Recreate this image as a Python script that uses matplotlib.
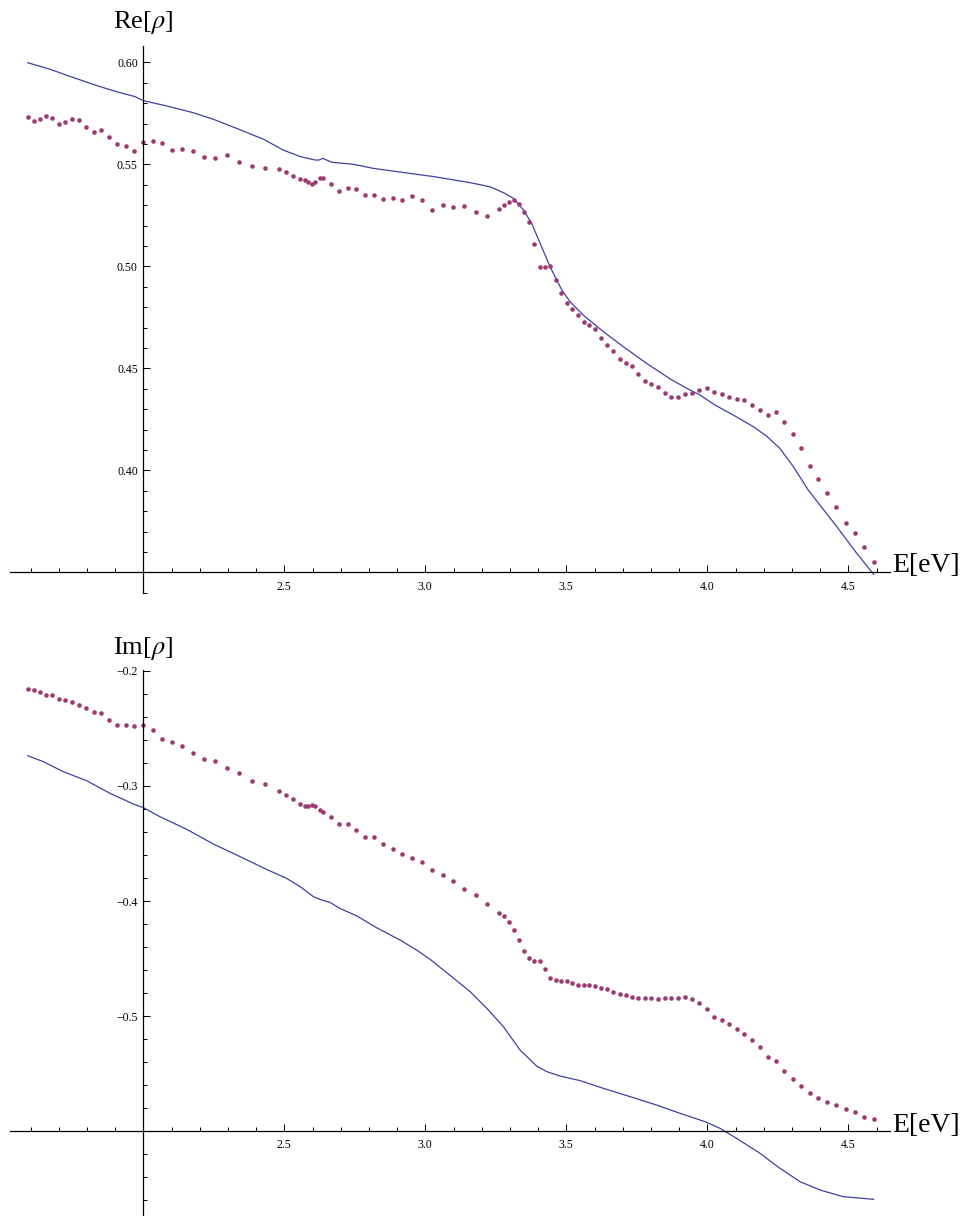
import matplotlib
matplotlib.use("Agg")
import matplotlib.pyplot as plt
import numpy as np

plt.rcParams['font.family'] = ['Liberation Serif', 'DejaVu Serif']
plt.rcParams['mathtext.fontset'] = 'stix'

# measured points (photon energy, eV)
energy = [
    1.590, 1.611, 1.632, 1.655, 1.676, 1.700, 1.723, 1.747, 1.772, 1.798,
    1.824, 1.851, 1.879, 1.908, 1.937, 1.968, 2.000, 2.033, 2.066, 2.102,
    2.137, 2.175, 2.214, 2.254, 2.296, 2.339, 2.384, 2.431, 2.480, 2.505,
    2.530, 2.556, 2.572, 2.585, 2.598, 2.610, 2.625, 2.638, 2.665, 2.695,
    2.725, 2.755, 2.786, 2.818, 2.850, 2.884, 2.917, 2.952, 2.987, 3.024,
    3.061, 3.099, 3.138, 3.178, 3.220, 3.261, 3.279, 3.297, 3.314, 3.332,
    3.350, 3.368, 3.387, 3.406, 3.425, 3.443, 3.462, 3.481, 3.501, 3.521,
    3.541, 3.562, 3.582, 3.603, 3.624, 3.645, 3.667, 3.689, 3.710, 3.733,
    3.755, 3.779, 3.802, 3.826, 3.849, 3.872, 3.897, 3.922, 3.947, 3.972,
    3.998, 4.024, 4.051, 4.077, 4.104, 4.131, 4.159, 4.187, 4.215, 4.244,
    4.273, 4.303, 4.332, 4.363, 4.394, 4.426, 4.458, 4.491, 4.524, 4.557,
    4.590,
]

re_meas = [
    0.5734, 0.5711, 0.5722, 0.5739, 0.5727, 0.5696, 0.5706, 0.5724, 0.5716, 0.5685,
    0.5660, 0.5667, 0.5636, 0.5600, 0.5588, 0.5567, 0.5609, 0.5616, 0.5603, 0.5570,
    0.5577, 0.5564, 0.5536, 0.5529, 0.5544, 0.5510, 0.5492, 0.5484, 0.5477, 0.5464,
    0.5443, 0.5430, 0.5423, 0.5415, 0.5404, 0.5415, 0.5435, 0.5435, 0.5402, 0.5369,
    0.5386, 0.5377, 0.5348, 0.5348, 0.5332, 0.5337, 0.5325, 0.5346, 0.5327, 0.5278,
    0.5302, 0.5292, 0.5296, 0.5268, 0.5248, 0.5283, 0.5299, 0.5317, 0.5324, 0.5304,
    0.5266, 0.5216, 0.5111, 0.4995, 0.4995, 0.5003, 0.4935, 0.4868, 0.4822, 0.4791,
    0.4761, 0.4729, 0.4711, 0.4694, 0.4650, 0.4614, 0.4585, 0.4544, 0.4524, 0.4510,
    0.4472, 0.4439, 0.4421, 0.4408, 0.4380, 0.4361, 0.4361, 0.4375, 0.4377, 0.4393,
    0.4403, 0.4382, 0.4375, 0.4357, 0.4351, 0.4344, 0.4321, 0.4298, 0.4271, 0.4284,
    0.4236, 0.4179, 0.4110, 0.4021, 0.3957, 0.3891, 0.3819, 0.3744, 0.3694, 0.3625,
    0.3551,
]

im_meas = [
    -0.2154, -0.2165, -0.2183, -0.2206, -0.2212, -0.2243, -0.2252, -0.2270, -0.2299, -0.2325,
    -0.2354, -0.2365, -0.2426, -0.2467, -0.2467, -0.2478, -0.2470, -0.2513, -0.2588, -0.2614,
    -0.2652, -0.2710, -0.2762, -0.2786, -0.2841, -0.2887, -0.2954, -0.2986, -0.3046, -0.3081,
    -0.3110, -0.3154, -0.3174, -0.3171, -0.3162, -0.3177, -0.3209, -0.3226, -0.3272, -0.3333,
    -0.3333, -0.3386, -0.3446, -0.3446, -0.3504, -0.3551, -0.3588, -0.3623, -0.3664, -0.3728,
    -0.3771, -0.3826, -0.3899, -0.3948, -0.4026, -0.4104, -0.4130, -0.4183, -0.4255, -0.4342,
    -0.4432, -0.4499, -0.4522, -0.4522, -0.4591, -0.4667, -0.4687, -0.4693, -0.4699, -0.4716,
    -0.4733, -0.4733, -0.4733, -0.4739, -0.4754, -0.4768, -0.4788, -0.4806, -0.4817, -0.4832,
    -0.4843, -0.4846, -0.4846, -0.4855, -0.4846, -0.4843, -0.4841, -0.4835, -0.4855, -0.4890,
    -0.4942, -0.5009, -0.5035, -0.5072, -0.5113, -0.5157, -0.5209, -0.5270, -0.5359, -0.5394,
    -0.5475, -0.5548, -0.5609, -0.5670, -0.5716, -0.5748, -0.5777, -0.5806, -0.5838, -0.5875,
    -0.5899,
]

# calculated curves
e_re_calc = [1.590, 1.669, 1.752, 1.846, 1.905, 1.970, 2.000, 2.083, 2.177, 2.248,
             2.331, 2.426, 2.496, 2.556, 2.609, 2.624, 2.636, 2.650, 2.668, 2.745,
             2.816, 2.910, 3.028, 3.159, 3.229, 3.277, 3.313, 3.348, 3.377, 3.407,
             3.442, 3.484, 3.513, 3.560, 3.631, 3.702, 3.785, 3.868, 3.927, 3.974,
             4.027, 4.092, 4.163, 4.210, 4.257, 4.305, 4.358, 4.459, 4.530, 4.590]
re_calc = [0.5998, 0.5966, 0.5925, 0.5881, 0.5856, 0.5832, 0.5812, 0.5786, 0.5753, 0.5721,
           0.5676, 0.5623, 0.5570, 0.5538, 0.5521, 0.5521, 0.5529, 0.5521, 0.5510, 0.5500,
           0.5480, 0.5462, 0.5440, 0.5410, 0.5390, 0.5361, 0.5333, 0.5276, 0.5211, 0.5113,
           0.4999, 0.4884, 0.4827, 0.4761, 0.4680, 0.4606, 0.4524, 0.4448, 0.4402, 0.4369,
           0.4320, 0.4271, 0.4214, 0.4168, 0.4108, 0.4018, 0.3903, 0.3724, 0.3593, 0.3490]

e_im_calc = [1.590, 1.645, 1.716, 1.799, 1.882, 1.965, 2.000, 2.059, 2.154, 2.248,
             2.343, 2.437, 2.508, 2.556, 2.603, 2.632, 2.662, 2.697, 2.757, 2.827,
             2.910, 2.969, 3.017, 3.159, 3.218, 3.277, 3.336, 3.395, 3.431, 3.478,
             3.549, 3.631, 3.726, 3.820, 3.903, 3.992, 4.045, 4.104, 4.187, 4.258,
             4.329, 4.400, 4.482, 4.590]
im_calc = [-0.2736, -0.2788, -0.2875, -0.2954, -0.3064, -0.3157, -0.3188, -0.3267, -0.3377, -0.3504,
           -0.3614, -0.3725, -0.3803, -0.3875, -0.3962, -0.3991, -0.4012, -0.4064, -0.4130, -0.4232,
           -0.4339, -0.4426, -0.4507, -0.4788, -0.4933, -0.5093, -0.5296, -0.5435, -0.5484, -0.5522,
           -0.5562, -0.5629, -0.5701, -0.5774, -0.5846, -0.5919, -0.5977, -0.6064, -0.6194, -0.6325,
           -0.6441, -0.6513, -0.6571, -0.6594]

line_color = '#4040a4'
dot_color = '#9b3b72'

fig = plt.figure(figsize=(9.69, 12.16), dpi=100)
ax1 = fig.add_axes([0, 0.5, 1, 0.5])
ax2 = fig.add_axes([0, 0.0, 1, 0.5])


def style_axes(ax, x0, y0, ylo, yhi, major_y, labels_y, minor_y):
    for s in ['top', 'right']:
        ax.spines[s].set_visible(False)
    ax.spines['left'].set_position(('data', x0))
    ax.spines['bottom'].set_position(('data', y0))
    ax.spines['left'].set_bounds(ylo, yhi)
    ax.spines['bottom'].set_bounds(1.527, 4.648)
    for s in ['left', 'bottom']:
        ax.spines[s].set_linewidth(0.9)
    ax.set_xticks([2.5, 3.0, 3.5, 4.0, 4.5], ['2.5', '3.0', '3.5', '4.0', '4.5'])
    ax.set_xticks(np.arange(1.6, 4.65, 0.1), minor=True)
    ax.set_yticks(major_y, labels_y)
    ax.set_yticks(minor_y, minor=True)
    ax.tick_params(which='both', direction='in', labelsize=8.5, width=0.7)
    ax.tick_params(which='major', length=5)
    ax.tick_params(which='minor', length=2.8)
    ax.tick_params(axis='x', pad=6)
    ax.tick_params(axis='y', pad=4)
    ax.patch.set_visible(False)


ax1.plot(e_re_calc, re_calc, color=line_color, lw=0.9)
ax1.plot(energy, re_meas, 'o', ms=3.3, color=dot_color, mec='none')
ax1.set_xlim(1.4918, 4.928)
ax1.set_ylim(0.3325, 0.63054)
style_axes(ax1, 2.0, 0.35, 0.340, 0.608,
           [0.40, 0.45, 0.50, 0.55, 0.60], ['0.40', '0.45', '0.50', '0.55', '0.60'],
           np.arange(0.34, 0.6085, 0.01))

ax2.plot(e_im_calc, im_calc, color=line_color, lw=0.9)
ax2.plot(energy, im_meas, 'o', ms=3.3, color=dot_color, mec='none')
ax2.set_xlim(1.4918, 4.928)
ax2.set_ylim(-0.67391, -0.14522)
style_axes(ax2, 2.0, -0.6, -0.674, -0.199,
           [-0.5, -0.4, -0.3, -0.2], ['\u22120.5', '\u22120.4', '\u22120.3', '\u22120.2'],
           np.arange(-0.66, -0.199, 0.02))

fig.text(143 / 969, 1 - 22 / 1216, r'Re[$\rho$]', ha='center', va='center', fontsize=19)
fig.text(143 / 969, 1 - 649 / 1216, r'Im[$\rho$]', ha='center', va='center', fontsize=19)
fig.text(892 / 969, 1 - 565 / 1216, 'E[eV]', ha='left', va='center', fontsize=20)
fig.text(892 / 969, 1 - 1126 / 1216, 'E[eV]', ha='left', va='center', fontsize=20)

fig.savefig('out.png', dpi=100, facecolor='white')
